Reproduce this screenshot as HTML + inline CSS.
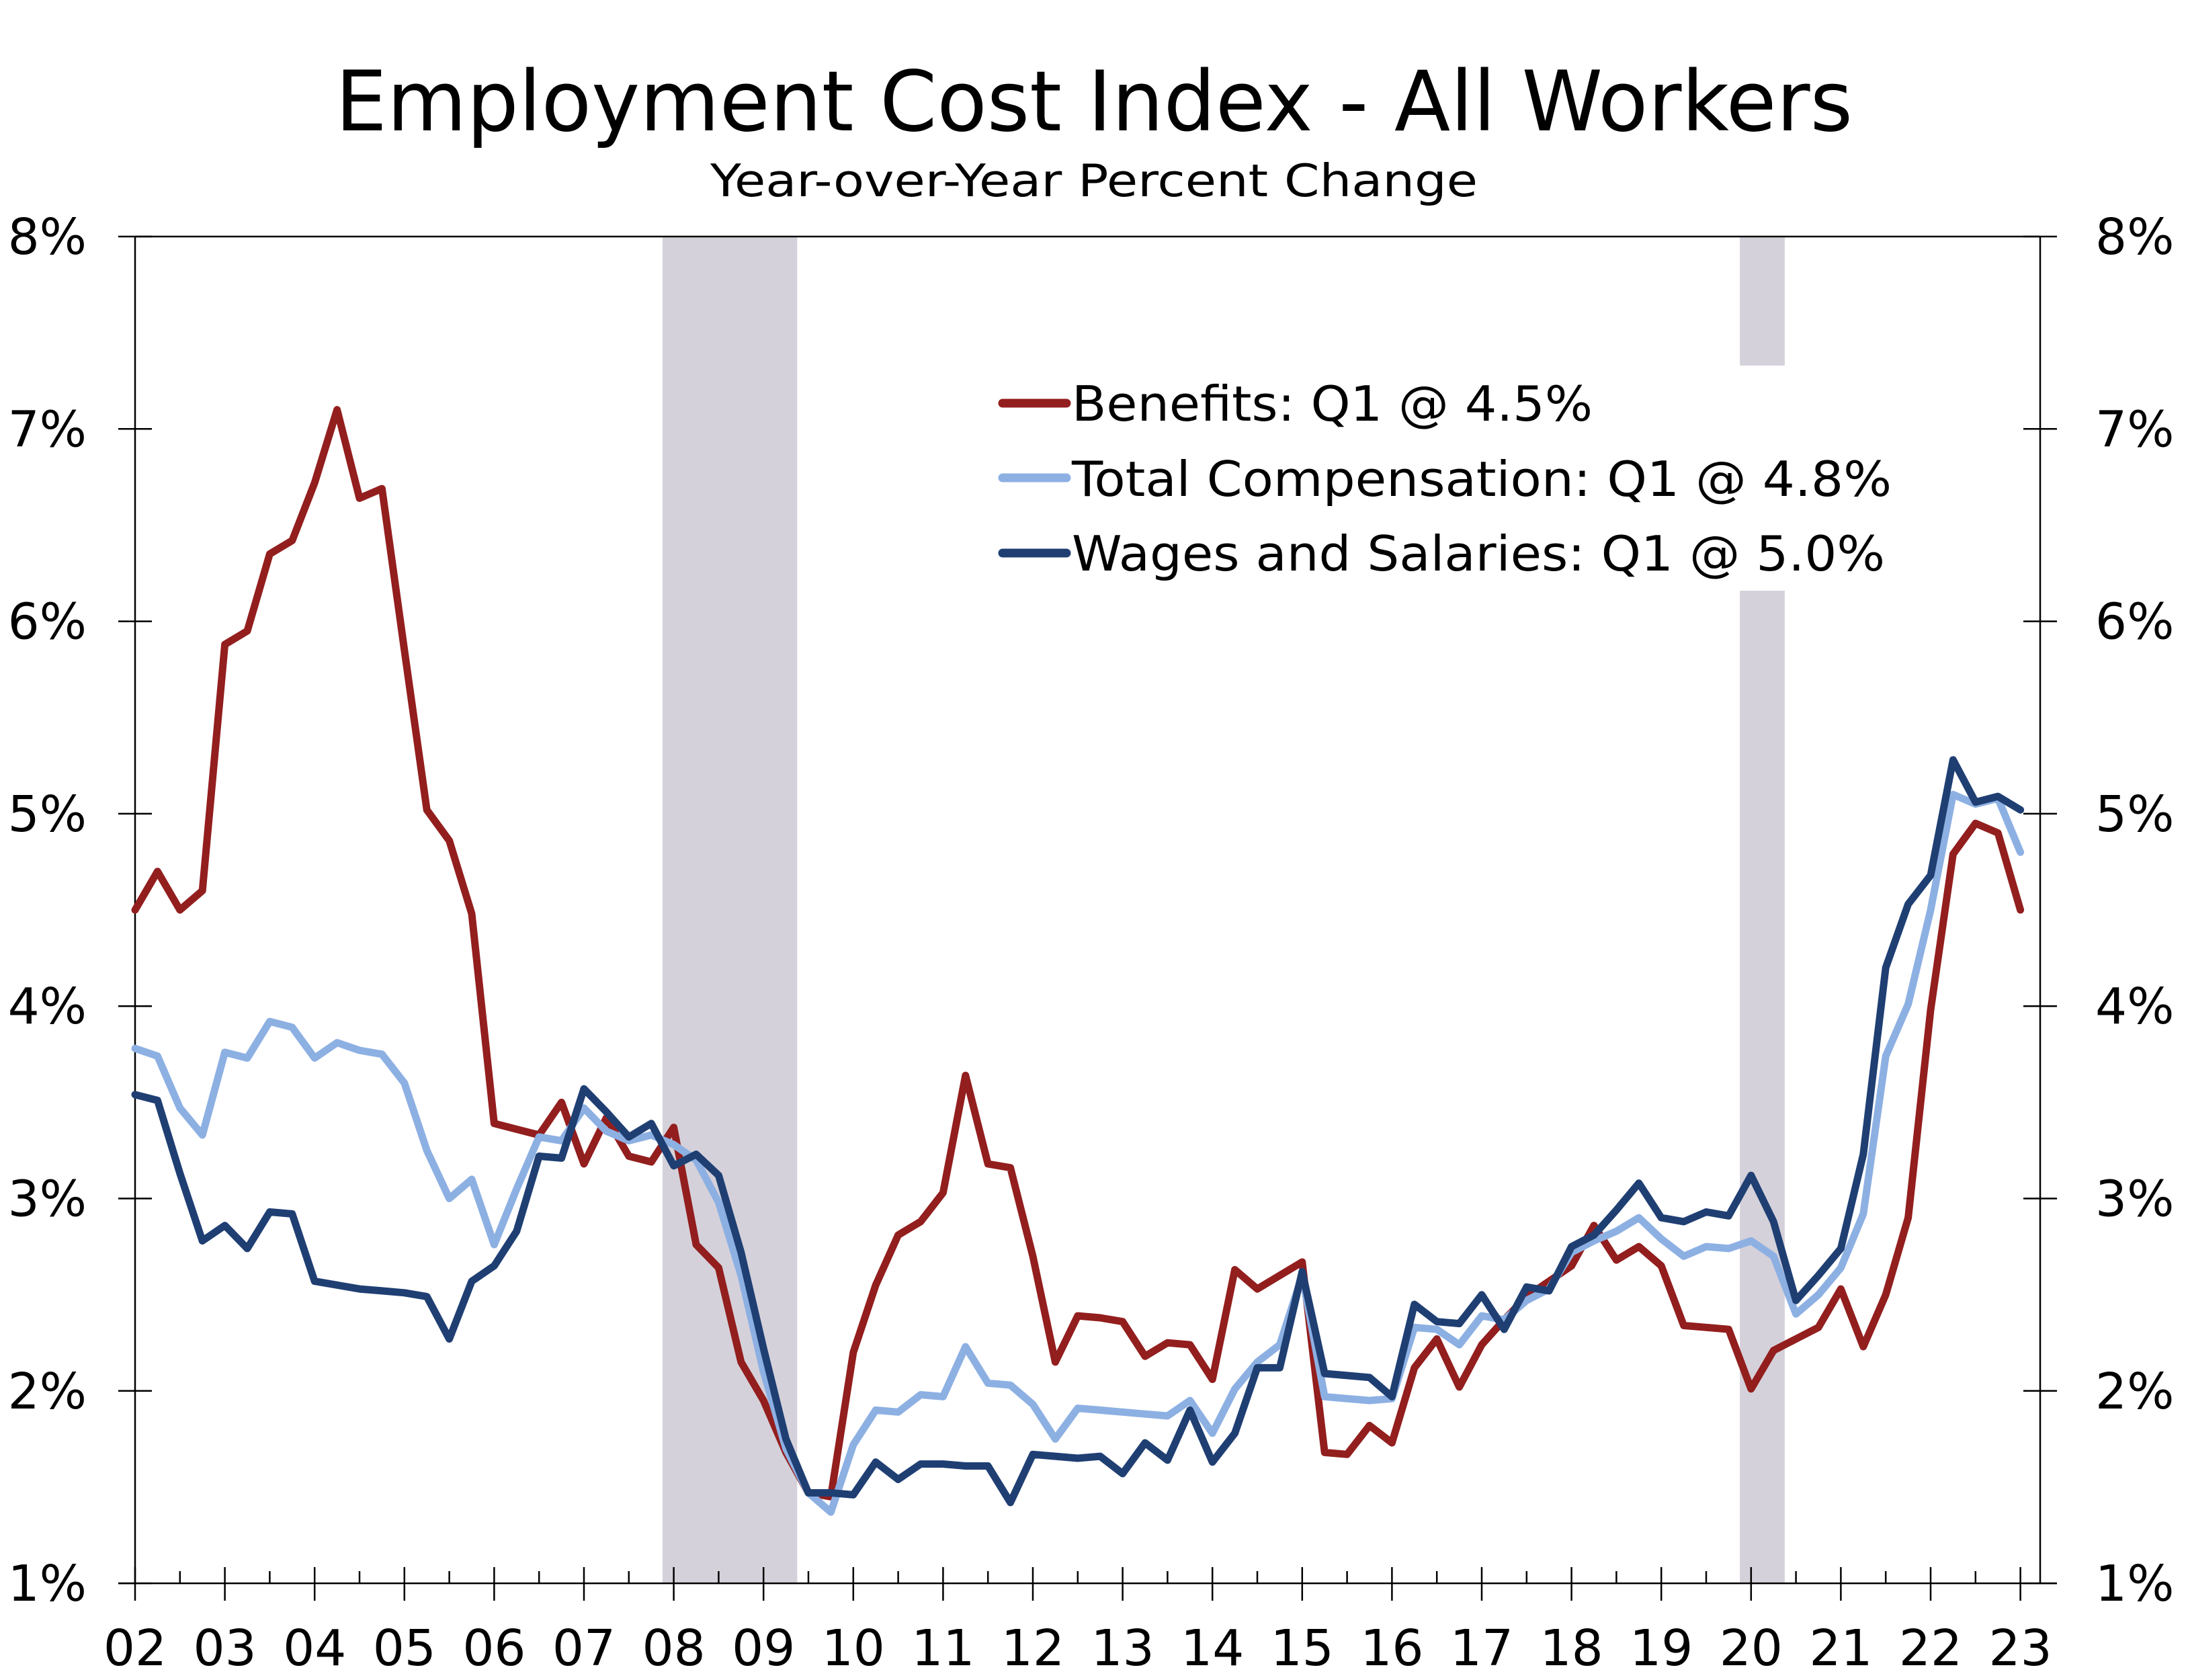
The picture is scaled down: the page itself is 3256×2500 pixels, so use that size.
<!DOCTYPE html>
<html><head><meta charset="utf-8"><style>
html,body{margin:0;padding:0;background:#fff;}
svg{display:block;}
text{font-family:"DejaVu Sans","Liberation Sans",sans-serif;fill:#000;}
</style></head><body>
<svg id="c" width="3256" height="2500" viewBox="0 0 3256 2500" xmlns="http://www.w3.org/2000/svg">
<rect width="3256" height="2500" fill="#fff"/>
<g id="shade" fill="#d5d1da"></g>
<g id="axes" stroke="#000" stroke-width="2.5" fill="none"></g>
<g id="series" fill="none" stroke-linejoin="round" stroke-linecap="round" stroke-width="11"></g>
<text x="1628" y="194" font-size="124" text-anchor="middle" textLength="2258" lengthAdjust="spacingAndGlyphs">Employment Cost Index - All Workers</text>
<text x="1628" y="292" font-size="67" text-anchor="middle" textLength="1142" lengthAdjust="spacingAndGlyphs">Year-over-Year Percent Change</text>
<g id="labels" font-size="74"></g>
<g id="legend">
<line x1="1492" y1="600" x2="1587" y2="600" stroke="#931e1e" stroke-width="13" stroke-linecap="round"/>
<line x1="1492" y1="711" x2="1587" y2="711" stroke="#8db0e3" stroke-width="13" stroke-linecap="round"/>
<line x1="1492" y1="823" x2="1587" y2="823" stroke="#1f3f73" stroke-width="13" stroke-linecap="round"/>
<text x="1595" y="626" font-size="72" textLength="775" lengthAdjust="spacingAndGlyphs">Benefits: Q1 @ 4.5%</text>
<text x="1595" y="738" font-size="72" textLength="1220" lengthAdjust="spacingAndGlyphs">Total Compensation: Q1 @ 4.8%</text>
<text x="1595" y="849" font-size="72" textLength="1210" lengthAdjust="spacingAndGlyphs">Wages and Salaries: Q1 @ 5.0%</text>
</g>
</svg>
<script>
var NS="http://www.w3.org/2000/svg";
function el(p,t,a,txt){var e=document.createElementNS(NS,t);for(var k in a)e.setAttribute(k,a[k]);if(txt!==undefined)e.textContent=txt;document.getElementById(p).appendChild(e);return e;}
var X0=201,DQ=33.4,YT=352,DY=286.3,XR=3036;
function X(i){return X0+i*DQ;}
function Y(v){return YT+(8-v)*DY;}
el("shade","rect",{x:X(24)-16.7,y:YT,width:6*DQ,height:Y(1)-YT});
el("shade","rect",{x:X(72)-16.7,y:YT,width:2*DQ,height:544-YT});
el("shade","rect",{x:X(72)-16.7,y:879,width:2*DQ,height:Y(1)-879});
el("axes","line",{x1:X0,y1:YT,x2:XR,y2:YT});
el("axes","line",{x1:X0,y1:YT,x2:X0,y2:Y(1)});
el("axes","line",{x1:XR,y1:YT,x2:XR,y2:Y(1)});
el("axes","line",{x1:176,y1:Y(1),x2:3061,y2:Y(1)});
for(var v=1;v<=8;v++){var y=Y(v);
 el("axes","line",{x1:176,y1:y,x2:226,y2:y});
 el("axes","line",{x1:3011,y1:y,x2:3061,y2:y});
 el("labels","text",{x:129,y:y+26,"text-anchor":"end"},v+"%");
 el("labels","text",{x:3118,y:y+26,"text-anchor":"start"},v+"%");
}
for(var yr=0;yr<=21;yr++){var x=X(yr*4);
 el("axes","line",{x1:x,y1:2332,x2:x,y2:2382});
 if(yr<21)el("axes","line",{x1:x+2*DQ,y1:2338,x2:x+2*DQ,y2:Y(1)});
 var s=(yr+2<10?"0":"")+(yr+2);
 el("labels","text",{x:x,y:2478,"text-anchor":"middle"},s);
}
var ben=[4.5,4.7,4.5,4.6,5.88,5.95,6.35,6.42,6.72,7.1,6.64,6.69,5.85,5.02,4.86,4.48,3.39,3.36,3.33,3.5,3.18,3.42,3.22,3.19,3.37,2.76,2.64,2.15,1.95,1.68,1.47,1.45,2.2,2.55,2.81,2.88,3.03,3.64,3.18,3.16,2.7,2.15,2.39,2.38,2.36,2.18,2.25,2.24,2.06,2.63,2.53,2.6,2.67,1.68,1.67,1.82,1.73,2.12,2.27,2.02,2.24,2.37,2.49,2.57,2.65,2.86,2.68,2.75,2.65,2.34,2.33,2.32,2.01,2.21,2.27,2.33,2.53,2.23,2.5,2.9,3.98,4.79,4.95,4.9,4.5];
var tot=[3.78,3.74,3.47,3.33,3.76,3.73,3.92,3.89,3.73,3.81,3.77,3.75,3.6,3.25,3.0,3.1,2.76,3.05,3.32,3.3,3.47,3.35,3.3,3.33,3.28,3.2,2.98,2.6,2.1,1.7,1.47,1.37,1.72,1.9,1.89,1.98,1.97,2.23,2.04,2.03,1.93,1.75,1.91,1.9,1.89,1.88,1.87,1.95,1.78,2.01,2.15,2.24,2.6,1.97,1.96,1.95,1.96,2.33,2.32,2.24,2.39,2.37,2.47,2.53,2.72,2.78,2.83,2.9,2.79,2.7,2.75,2.74,2.78,2.7,2.4,2.5,2.64,2.92,3.74,4.01,4.5,5.1,5.05,5.08,4.8];
var wag=[3.54,3.51,3.13,2.78,2.86,2.74,2.93,2.92,2.57,2.55,2.53,2.52,2.51,2.49,2.27,2.57,2.65,2.83,3.22,3.21,3.57,3.45,3.32,3.39,3.17,3.23,3.12,2.72,2.22,1.75,1.47,1.47,1.46,1.63,1.54,1.62,1.62,1.61,1.61,1.42,1.67,1.66,1.65,1.66,1.57,1.73,1.64,1.9,1.63,1.78,2.12,2.12,2.62,2.09,2.08,2.07,1.97,2.45,2.36,2.35,2.5,2.32,2.54,2.52,2.75,2.81,2.94,3.08,2.9,2.88,2.93,2.91,3.12,2.88,2.47,2.6,2.74,3.23,4.2,4.53,4.68,5.28,5.06,5.09,5.02];
function path(d,c){var s="";for(var i=0;i<d.length;i++)s+=(i?"L":"M")+X(i).toFixed(1)+" "+Y(d[i]).toFixed(1);el("series","path",{d:s,stroke:c});}
path(ben,"#931e1e");path(tot,"#8db0e3");path(wag,"#1f3f73");
</script>
</body></html>
